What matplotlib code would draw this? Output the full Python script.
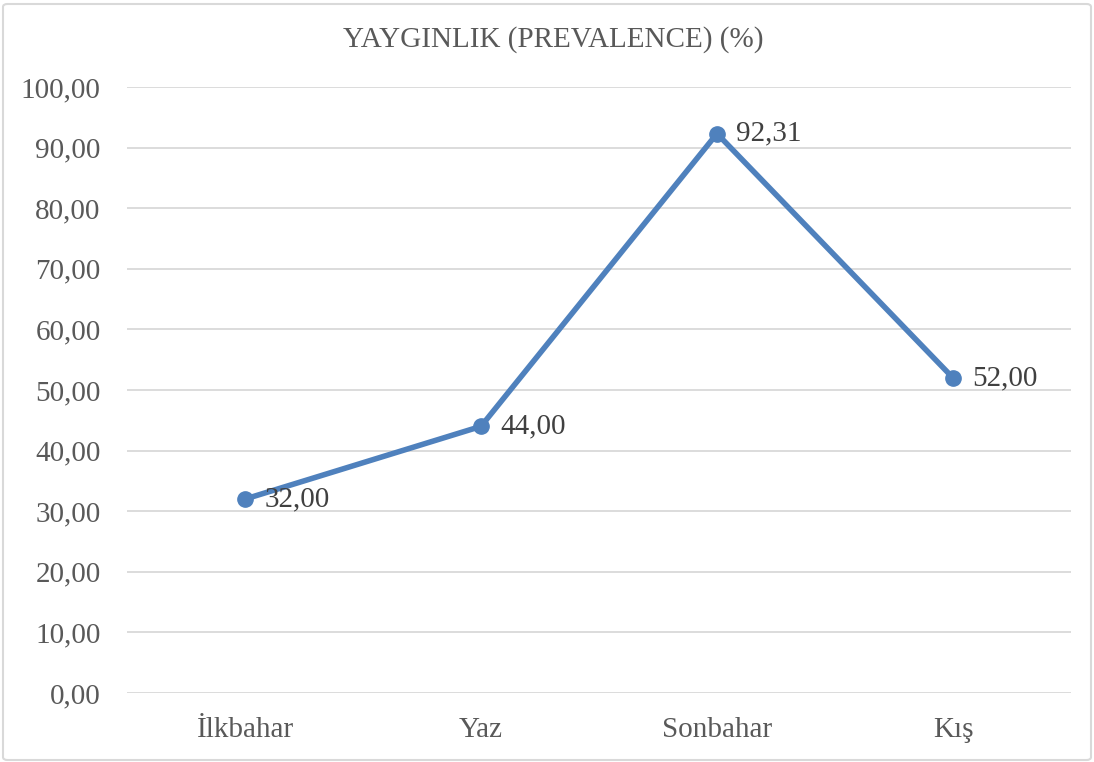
import matplotlib as mpl
mpl.use('Agg')
import matplotlib.pyplot as plt
from matplotlib.patches import FancyBboxPatch

# mevsimlere göre yaygınlık (%)
mevsimler = ["İlkbahar", "Yaz", "Sonbahar", "Kış"]
yayginlik = [32.00, 44.00, 92.31, 52.00]
yticks = [0, 10, 20, 30, 40, 50, 60, 70, 80, 90, 100]

plt.rcParams['font.family'] = ['Liberation Serif', 'DejaVu Serif']

def virgul(v):  # ondalık ayırıcı olarak virgül
	return "{:.2f}".format(v).replace(".", ",")

fig = plt.figure(figsize=(10.94, 7.62), dpi=100)
ax = fig.add_axes([127 / 1094, 1 - 693 / 762, (1071 - 127) / 1094, (693 - 87) / 762])

x = list(range(len(mevsimler)))
ax.plot(x, yayginlik, color='#4F81BD', linewidth=4, marker='o', markersize=11,
	solid_capstyle='round', zorder=3)

for xi, v in zip(x, yayginlik):
	ax.annotate(virgul(v), (xi, v), xytext=(14, 0), textcoords='offset points',
		ha='left', va='center', fontsize=21, color='#404040')

ax.set_xlim(-0.5, len(mevsimler) - 0.5)
ax.set_ylim(0, 100)
ax.set_yticks(yticks)
ax.set_yticklabels([virgul(t) for t in yticks])
ax.set_xticks(x)
ax.set_xticklabels(mevsimler)
ax.yaxis.grid(True, color='#D9D9D9', linewidth=1.3)
ax.set_axisbelow(True)
for s in ax.spines.values():
	s.set_visible(False)
ax.tick_params(length=0, labelsize=21, colors='#595959')
ax.tick_params(axis='y', pad=19)
ax.tick_params(axis='x', pad=17)

fig.text(553 / 1094, 1 - 40 / 762, "YAYGINLIK (PREVALENCE) (%)", ha='center', va='center',
	fontsize=21, color='#595959')

# grafik alanının çerçevesi
fig.patches.append(FancyBboxPatch((3 / 1094, 2 / 762), 1088 / 1094, 756 / 762,
	boxstyle='round,pad=0,rounding_size=0.004', transform=fig.transFigure,
	facecolor='none', edgecolor='#D9D9D9', linewidth=1.5))

fig.savefig('out.png', dpi=100)
